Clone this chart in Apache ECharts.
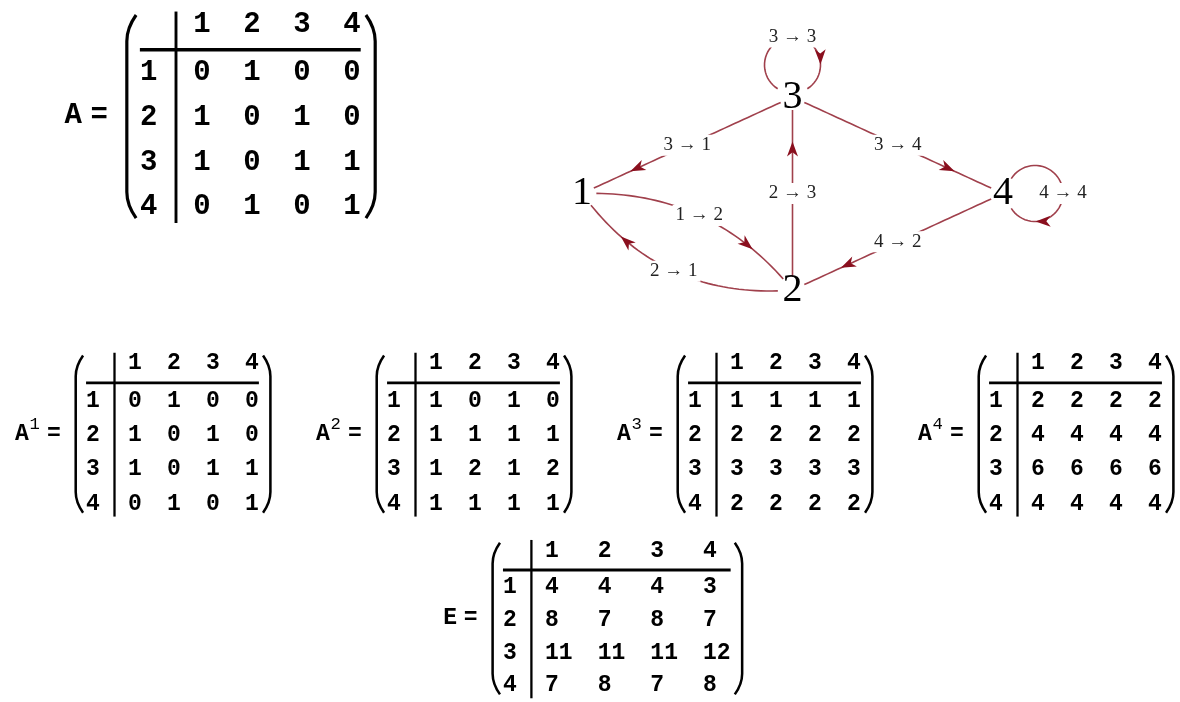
<!DOCTYPE html>
<html>
<head>
<meta charset="utf-8">
<title>Adjacency matrix powers</title>
<script src="https://cdn.jsdelivr.net/npm/echarts@6/dist/echarts.min.js"></script>
<style>
html, body { margin: 0; padding: 0; background: #fff; }
#chart { width: 1180px; height: 702px; }
</style>
</head>
<body>
<div id="chart"></div>
<script>
// matrix headers
var colLabels = ['1', '2', '3', '4'];
var rowLabels = ['1', '2', '3', '4'];

// adjacency matrix and its powers
var matA  = [[0, 1, 0, 0], [1, 0, 1, 0], [1, 0, 1, 1], [0, 1, 0, 1]];
var matA2 = [[1, 0, 1, 0], [1, 1, 1, 1], [1, 2, 1, 2], [1, 1, 1, 1]];
var matA3 = [[1, 1, 1, 1], [2, 2, 2, 2], [3, 3, 3, 3], [2, 2, 2, 2]];
var matA4 = [[2, 2, 2, 2], [4, 4, 4, 4], [6, 6, 6, 6], [4, 4, 4, 4]];
var matE  = [[4, 4, 4, 3], [8, 7, 8, 7], [11, 11, 11, 12], [7, 8, 7, 8]];

// graph vertices (layout coordinates)
var nodeNames = ['1', '2', '3', '4'];
var nodeX = [-1, 0, 0, 1];
var nodeY = [0, -1, 1, 0];

// edges i -> j wherever A has a 1
var edges = [];
matA.forEach(function (row, i) {
    row.forEach(function (v, j) { if (v) edges.push([i, j]); });
});

// styles
var MONO = "'Liberation Mono', 'Courier New', monospace";
var SERIF = "'Liberation Serif', 'Times New Roman', serif";
var EDGE_COLOR = '#a0404c';
var ARROW_COLOR = '#8a0f1e';
var edgeBend = { '0-1': 0.25, '1-0': 0.28 };
var loopDir = { 2: -90, 3: 0 };
var LOOP_R = 28, LOOP_GAP = 32, TRIM = 13;

var matrices = [
    { name: 'A', sup: '',  data: matA,  fs: 29, cols: 1, grid: { left: 177, top: 50.7, width: 200, height: 178.7 } },
    { name: 'A', sup: '1', data: matA,  fs: 23, cols: 1, grid: { left: 115.5, top: 383.8, width: 156, height: 137.3 } },
    { name: 'A', sup: '2', data: matA2, fs: 23, cols: 1, grid: { left: 416.5, top: 383.8, width: 156, height: 137.3 } },
    { name: 'A', sup: '3', data: matA3, fs: 23, cols: 1, grid: { left: 717.5, top: 383.8, width: 156, height: 137.3 } },
    { name: 'A', sup: '4', data: matA4, fs: 23, cols: 1, grid: { left: 1018.5, top: 383.8, width: 156, height: 137.3 } },
    { name: 'E', sup: '',  data: matE,  fs: 23, cols: 2, grid: { left: 532.4, top: 571, width: 210.8, height: 136 } }
];

function txt(s, x, y, size, weight, family, align) {
    return {
        type: 'text', x: x, y: y,
        style: {
            text: s, fill: '#000', fontSize: size, fontWeight: weight,
            fontFamily: family, align: align, verticalAlign: 'middle'
        }
    };
}

function matrixRender(m) {
    return function (params, api) {
        var fs = m.fs, box = m.cols * fs * 0.6;
        var p = api.coord([api.value(0), api.value(1)]);
        var kids = [txt(String(api.value(2)), p[0] - box / 2, p[1], fs, 'bold', MONO, 'left')];
        if (params.dataIndex === 0) {
            var size = api.size([1, 1]);
            var last = api.coord([3, 3]);
            var gl = p[0] - size[0] / 2, gt = p[1] - size[1] / 2;
            var hy = gt - 0.88 * fs;
            var rx = gl - 0.98 * fs;
            var right = last[0] + box / 2;
            colLabels.forEach(function (lab, c) {
                kids.push(txt(lab, api.coord([c, 0])[0] - box / 2, hy, fs, 'bold', MONO, 'left'));
            });
            rowLabels.forEach(function (lab, r) {
                kids.push(txt(lab, rx, api.coord([0, r])[1], fs, 'bold', MONO, 'center'));
            });
            kids.push({ type: 'line', shape: { x1: rx - 0.3 * fs, y1: gt - 1, x2: right, y2: gt - 1 },
                style: { stroke: '#000', lineWidth: 0.12 * fs } });
            kids.push({ type: 'line', shape: { x1: gl - 1, y1: hy - 0.47 * fs, x2: gl - 1, y2: last[1] + 0.55 * fs },
                style: { stroke: '#000', lineWidth: 0.1 * fs } });
            var top = hy - 0.35 * fs, bot = last[1] + 0.38 * fs;
            var lp = rx - 0.75 * fs, rp = right + 0.5 * fs;
            var w = 0.32 * fs, h = 0.9 * fs;
            var lpath = 'M' + (lp + w) + ',' + top + ' Q' + lp + ',' + (top + h / 2) + ' ' + lp + ',' + (top + h) +
                ' L' + lp + ',' + (bot - h) + ' Q' + lp + ',' + (bot - h / 2) + ' ' + (lp + w) + ',' + bot;
            var rpath = 'M' + (rp - w) + ',' + top + ' Q' + rp + ',' + (top + h / 2) + ' ' + rp + ',' + (top + h) +
                ' L' + rp + ',' + (bot - h) + ' Q' + rp + ',' + (bot - h / 2) + ' ' + (rp - w) + ',' + bot;
            [lpath, rpath].forEach(function (d) {
                kids.push({ type: 'path', shape: { pathData: d },
                    style: { stroke: '#000', fill: null, lineWidth: 0.11 * fs } });
            });
            var midY = (hy + last[1]) / 2;
            var eqX = lp - 0.95 * fs;
            kids.push(txt('=', eqX, midY, fs, 'bold', MONO, 'center'));
            if (m.sup) {
                kids.push(txt(m.name, eqX - 1.39 * fs, midY, fs, 'bold', MONO, 'center'));
                kids.push(txt(m.sup, eqX - 0.83 * fs, midY - 0.4 * fs, 0.75 * fs, 'normal', MONO, 'center'));
            } else {
                kids.push(txt(m.name, eqX - 0.9 * fs, midY, fs, 'bold', MONO, 'center'));
            }
        }
        return { type: 'group', children: kids };
    };
}

function quad(p0, cp, p2, t) {
    var u = 1 - t;
    return [u * u * p0[0] + 2 * u * t * cp[0] + t * t * p2[0],
            u * u * p0[1] + 2 * u * t * cp[1] + t * t * p2[1]];
}
function quadTan(p0, cp, p2, t) {
    return [2 * (1 - t) * (cp[0] - p0[0]) + 2 * t * (p2[0] - cp[0]),
            2 * (1 - t) * (cp[1] - p0[1]) + 2 * t * (p2[1] - cp[1])];
}

function edgeRender(params, api) {
    var e = edges[params.dataIndex], s = e[0], t = e[1];
    var p0 = api.coord([nodeX[s], nodeY[s]]);
    var p2 = api.coord([nodeX[t], nodeY[t]]);
    var pts = [], tip, tan, lab, k;
    if (s === t) {
        var th = loopDir[s] * Math.PI / 180, r = LOOP_R, g = LOOP_GAP * Math.PI / 180;
        var c = [p0[0] + Math.cos(th) * (r + 4), p0[1] + Math.sin(th) * (r + 4)];
        var a0 = th + Math.PI + g, a1 = th + 3 * Math.PI - g;
        for (k = 0; k <= 48; k++) {
            var a = a0 + (a1 - a0) * k / 48;
            pts.push([c[0] + r * Math.cos(a), c[1] + r * Math.sin(a)]);
        }
        var aa = a0 + 0.8 * (a1 - a0);
        tip = [c[0] + r * Math.cos(aa), c[1] + r * Math.sin(aa)];
        tan = [-Math.sin(aa), Math.cos(aa)];
        lab = [c[0] + Math.cos(th) * r, c[1] + Math.sin(th) * r];
    } else {
        var bend = edgeBend[s + '-' + t] || 0;
        var cp = [(p0[0] + p2[0]) / 2 - (p0[1] - p2[1]) * bend,
                  (p0[1] + p2[1]) / 2 - (p2[0] - p0[0]) * bend];
        var len = Math.sqrt(Math.pow(p2[0] - p0[0], 2) + Math.pow(p2[1] - p0[1], 2));
        var t0 = TRIM / len, t1 = 1 - TRIM / len;
        for (k = 0; k <= 40; k++) pts.push(quad(p0, cp, p2, t0 + (t1 - t0) * k / 40));
        tip = quad(p0, cp, p2, 0.77);
        tan = quadTan(p0, cp, p2, 0.77);
        var n = Math.sqrt(tan[0] * tan[0] + tan[1] * tan[1]);
        tan = [tan[0] / n, tan[1] / n];
        lab = quad(p0, cp, p2, 0.5);
    }
    var L = 15, W = 5.5, nx = -tan[1], ny = tan[0];
    var back = [tip[0] - tan[0] * L, tip[1] - tan[1] * L];
    var notch = [tip[0] - tan[0] * L * 0.72, tip[1] - tan[1] * L * 0.72];
    return {
        type: 'group',
        children: [
            { type: 'polyline', shape: { points: pts }, style: { stroke: EDGE_COLOR, lineWidth: 1.6, fill: null } },
            { type: 'polygon', shape: { points: [tip, [back[0] + nx * W, back[1] + ny * W], notch, [back[0] - nx * W, back[1] - ny * W]] },
              style: { fill: ARROW_COLOR } },
            { type: 'text', x: lab[0], y: lab[1],
              style: { text: nodeNames[s] + ' \u2192 ' + nodeNames[t], fill: '#222', fontSize: 19, fontFamily: SERIF,
                       align: 'center', verticalAlign: 'middle', backgroundColor: '#fff', padding: [1, 3] } }
        ]
    };
}

function nodeRender(params, api) {
    var p = api.coord([api.value(0), api.value(1)]);
    return txt(nodeNames[params.dataIndex], p[0], p[1], 40, 'normal', SERIF, 'center');
}

var grids = [], xAxes = [], yAxes = [], series = [];
matrices.forEach(function (m, i) {
    grids.push(m.grid);
    xAxes.push({ type: 'category', gridIndex: i, data: colLabels, show: false });
    yAxes.push({ type: 'category', gridIndex: i, data: rowLabels, inverse: true, show: false });
    var cells = [];
    m.data.forEach(function (row, r) {
        row.forEach(function (v, c) { cells.push([c, r, v]); });
    });
    series.push({
        type: 'custom', coordinateSystem: 'cartesian2d', xAxisIndex: i, yAxisIndex: i,
        data: cells, renderItem: matrixRender(m)
    });
});

var gi = matrices.length;
grids.push({ left: 582, top: 97, width: 421, height: 193 });
xAxes.push({ type: 'value', gridIndex: gi, min: -1, max: 1, show: false });
yAxes.push({ type: 'value', gridIndex: gi, min: -1, max: 1, show: false });
series.push({
    type: 'custom', coordinateSystem: 'cartesian2d', xAxisIndex: gi, yAxisIndex: gi,
    data: edges.map(function (e) { return [nodeX[e[0]], nodeY[e[0]]]; }),
    renderItem: edgeRender
});
series.push({
    type: 'custom', coordinateSystem: 'cartesian2d', xAxisIndex: gi, yAxisIndex: gi,
    data: nodeNames.map(function (n, i) { return [nodeX[i], nodeY[i]]; }),
    renderItem: nodeRender
});

var myChart = echarts.init(document.getElementById('chart'));
myChart.setOption({
    animation: false,
    backgroundColor: '#fff',
    grid: grids,
    xAxis: xAxes,
    yAxis: yAxes,
    series: series
});
</script>
</body>
</html>
